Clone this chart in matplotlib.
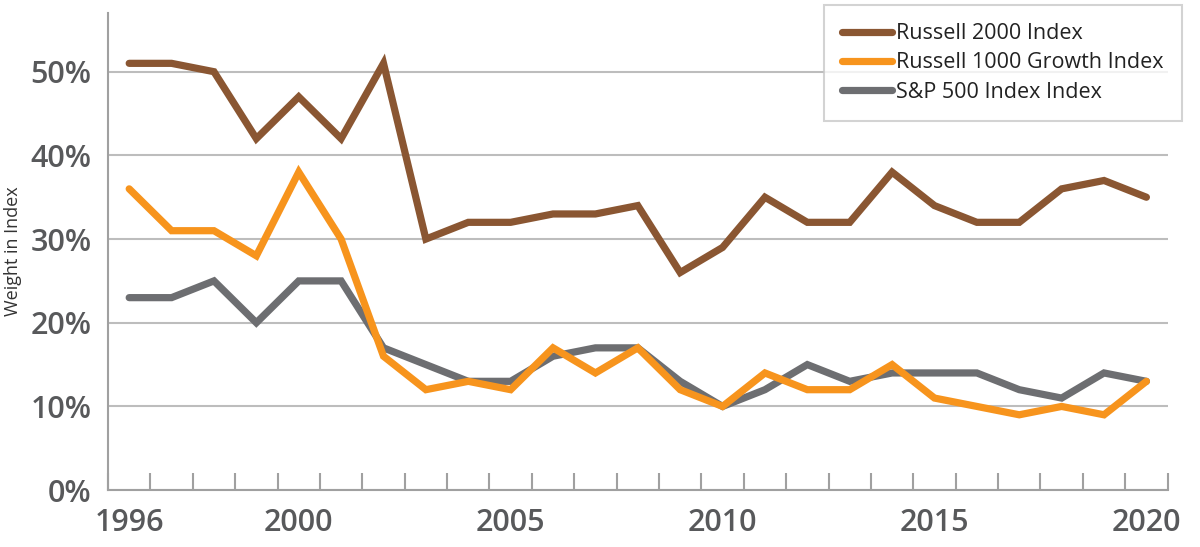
import numpy as np
import matplotlib
matplotlib.use("Agg")
import matplotlib.pyplot as plt
from matplotlib.ticker import FixedLocator, PercentFormatter

years = list(range(1996, 2021))
russell_2000 = [51, 51, 50, 42, 47, 42, 51, 30, 32, 32, 33, 33, 34, 26, 29, 35, 32, 32, 38, 34, 32, 32, 36, 37, 35]
russell_1000g = [36, 31, 31, 28, 38, 30, 16, 12, 13, 12, 17, 14, 17, 12, 10, 14, 12, 12, 15, 11, 10, 9, 10, 9, 13]
sp_500 = [23, 23, 25, 20, 25, 25, 17, 15, 13, 13, 16, 17, 17, 13, 10, 12, 15, 13, 14, 14, 14, 12, 11, 14, 13]
labels = ["Russell 2000 Index", "Russell 1000 Growth Index", "S&P 500 Index Index"]
label_years = [1996, 2000, 2005, 2010, 2015, 2020]
yticks = [0, 10, 20, 30, 40, 50]

plt.rcParams['font.family'] = ['Open Sans', 'DejaVu Sans']
text_col = "#58595B"

fig = plt.figure(figsize=(12, 5.47), dpi=100)
ax = fig.add_axes([0.09, 0.104, 0.883, 0.872])

x = np.arange(len(years))
kw = dict(lw=5.2, solid_joinstyle="miter", solid_capstyle="round")
ax.plot(x, russell_2000, color="#8A5632", label=labels[0], zorder=3, **kw)
ax.plot(x, sp_500, color="#6D6E71", label=labels[2], zorder=2, **kw)
ax.plot(x, russell_1000g, color="#F7941D", label=labels[1], zorder=4, **kw)

ax.set_xlim(-0.5, len(years) - 0.5)
ax.set_ylim(0, 57)

ax.yaxis.set_major_locator(FixedLocator(yticks))
ax.yaxis.set_major_formatter(PercentFormatter(decimals=0))
ax.grid(axis="y", color="#BDBDBD", lw=1.5, zorder=0)
ax.set_axisbelow(True)

ax.set_xticks([years.index(y) for y in label_years])
ax.set_xticklabels([str(y) for y in label_years])
ax.set_xticks(np.arange(-0.5, len(years)), minor=True)
ax.tick_params(axis="x", which="major", length=0, pad=13, labelsize=22, labelcolor=text_col)
ax.tick_params(axis="x", which="minor", direction="in", length=12, width=1.5, color="#A0A0A0")
ax.tick_params(axis="y", length=0, pad=12, labelsize=22, labelcolor=text_col)
for t in ax.get_xticklabels() + ax.get_yticklabels():
    t.set_fontweight("semibold")

for s in ["top", "right"]:
    ax.spines[s].set_visible(False)
for s in ["left", "bottom"]:
    ax.spines[s].set_color("#A0A0A0")
    ax.spines[s].set_linewidth(1.5)

ax.set_ylabel("Weight in Index", fontsize=13, color="#333333", labelpad=6)

h, l = ax.get_legend_handles_labels()
order = [0, 2, 1]
leg = fig.legend([h[i] for i in order], [l[i] for i in order], loc="upper right",
                 bbox_to_anchor=(1182 / 1200, 1 - 5 / 547), bbox_transform=fig.transFigure,
                 fontsize=15.5, frameon=True, fancybox=False,
                 edgecolor="#C8C8C8", handlelength=2.3, handletextpad=0.2,
                 labelspacing=0.38, borderpad=0.85, borderaxespad=0)
leg.get_frame().set_linewidth(1.5)
for t in leg.get_texts():
    t.set_color("#222222")

fig.savefig("out.png", dpi=100)
